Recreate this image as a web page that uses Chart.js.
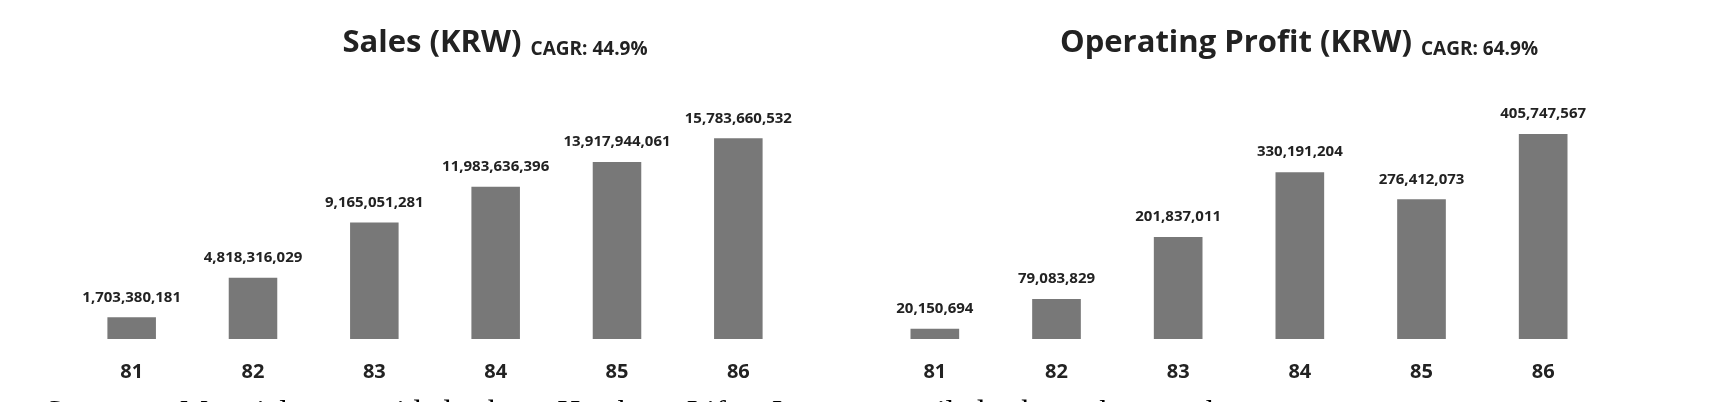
<!DOCTYPE html>
<html>
<head>
<meta charset="utf-8">
<script src="https://cdn.jsdelivr.net/npm/chart.js@4.4.1/dist/chart.umd.min.js"></script>
<style>
    html, body { margin: 0; padding: 0; background: #fff; }
    body { width: 1714px; height: 402px; position: relative; overflow: hidden; }
    .painel { position: absolute; top: 0; width: 857px; height: 402px; }
    #painel-vendas { left: 0; }
    #painel-lucro { left: 857px; }
    #fonte {
        position: absolute; left: 45px; top: 395px;
        font-family: "Liberation Serif", "DejaVu Serif", serif;
        font-size: 32px; line-height: 32px; color: #000;
        word-spacing: 29px; white-space: nowrap;
    }
</style>
</head>
<body>
<div class="painel" id="painel-vendas"><canvas id="graficoVendas"></canvas></div>
<div class="painel" id="painel-lucro"><canvas id="graficoLucro"></canvas></div>
<div id="fonte">Source: Materials provided by Hwaho Lift Inc., compiled by the author</div>

<script>
// Dados
const anos = ['81', '82', '83', '84', '85', '86'];
const vendas = [1703380181, 4818316029, 9165051281, 11983636396, 13917944061, 15783660532];
const lucroOperacional = [20150694, 79083829, 201837011, 330191204, 276412073, 405747567];
const tituloVendas = 'Sales (KRW)';
const cagrVendas = 'CAGR: 44.9%';
const tituloLucro = 'Operating Profit (KRW)';
const cagrLucro = 'CAGR: 64.9%';

const corBarra = '#787878';
const corTexto = '#222222';
const fonteBase = '"Open Sans", "Noto Sans", sans-serif';

// Plugin: título em duas partes (principal + CAGR menor)
const tituloDuplo = {
    id: 'tituloDuplo',
    afterDraw(chart, args, opts) {
        const ctx = chart.ctx;
        const area = chart.chartArea;
        ctx.save();
        ctx.fillStyle = corTexto;
        ctx.textBaseline = 'alphabetic';
        ctx.font = 'bold 31px ' + fonteBase;
        const w1 = ctx.measureText(opts.principal).width;
        ctx.font = 'bold 19px ' + fonteBase;
        const w2 = ctx.measureText(opts.sub).width;
        const total = w1 + 9 + w2;
        const centro = (area.left + area.right) / 2 + opts.deslocamento;
        const x0 = centro - total / 2;
        ctx.textAlign = 'left';
        ctx.font = 'bold 31px ' + fonteBase;
        ctx.fillText(opts.principal, x0, 52);
        ctx.font = 'bold 19px ' + fonteBase;
        ctx.fillText(opts.sub, x0 + w1 + 9, 55);
        ctx.restore();
    }
};

// Plugin: valores acima das barras
const rotulosValores = {
    id: 'rotulosValores',
    afterDatasetsDraw(chart) {
        const ctx = chart.ctx;
        const meta = chart.getDatasetMeta(0);
        const valores = chart.data.datasets[0].data;
        ctx.save();
        ctx.fillStyle = corTexto;
        ctx.font = 'bold 15px ' + fonteBase;
        ctx.textAlign = 'center';
        ctx.textBaseline = 'middle';
        meta.data.forEach((barra, i) => {
            ctx.fillText(valores[i].toLocaleString('en-US'), barra.x, barra.y - 20);
        });
        ctx.restore();
    }
};

function criarGrafico(idCanvas, valores, maximo, titulo, cagr, padding) {
    const ctx = document.getElementById(idCanvas).getContext('2d');
    return new Chart(ctx, {
        type: 'bar',
        data: {
            labels: anos,
            datasets: [{
                data: valores,
                backgroundColor: corBarra,
                barPercentage: 0.4,
                categoryPercentage: 1.0
            }]
        },
        options: {
            responsive: true,
            maintainAspectRatio: false,
            animation: false,
            layout: { padding: padding },
            plugins: {
                legend: { display: false },
                tooltip: { enabled: false },
                tituloDuplo: { principal: titulo, sub: cagr, deslocamento: 60 }
            },
            scales: {
                x: {
                    grid: { display: false, drawTicks: false },
                    border: { display: false },
                    ticks: {
                        color: corTexto,
                        padding: 21,
                        font: { family: fonteBase, size: 20, weight: 'bold' }
                    }
                },
                y: {
                    display: false,
                    min: 0,
                    max: maximo
                }
            }
        },
        plugins: [tituloDuplo, rotulosValores]
    });
}

document.addEventListener('DOMContentLoaded', () => {
    criarGrafico('graficoVendas', vendas, 18.8e9, tituloVendas, cagrVendas,
        { top: 100, left: 71, right: 58, bottom: -3 });
    criarGrafico('graficoLucro', lucroOperacional, 473e6, tituloLucro, cagrLucro,
        { top: 100, left: 17, right: 110, bottom: -3 });
});
</script>
</body>
</html>
